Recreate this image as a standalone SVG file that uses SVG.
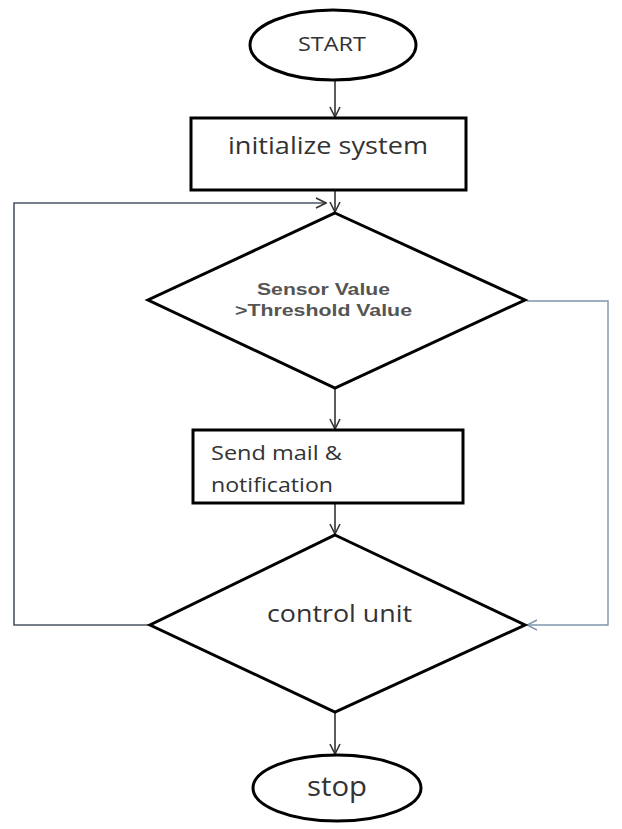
<svg xmlns="http://www.w3.org/2000/svg" width="622" height="829" viewBox="0 0 622 829">
<style>
.shape{fill:#fff;stroke:#000;stroke-width:3}
.conn{fill:none;stroke:#333;stroke-width:1.6}
.blue{fill:none;stroke:#7f95ad;stroke-width:1.4}
.dark{fill:none;stroke:#4a5664;stroke-width:1.6}
.t{font-family:"Open Sans","Liberation Sans",sans-serif;fill:#333}
.b{font-family:"Liberation Sans",Arial,sans-serif;font-weight:bold;fill:#555;font-size:17px}
</style>
<defs>
<marker id="ah" viewBox="0 0 12 12" refX="11" refY="6" markerWidth="12" markerHeight="12" markerUnits="userSpaceOnUse" orient="auto">
<polyline points="1,1 11,6 1,11" fill="none" stroke="#333" stroke-width="1.6"/>
</marker>
<marker id="ahb" viewBox="0 0 12 12" refX="11" refY="6" markerWidth="12" markerHeight="12" markerUnits="userSpaceOnUse" orient="auto">
<polyline points="1,1 11,6 1,11" fill="none" stroke="#7f95ad" stroke-width="1.4"/>
</marker>
</defs>
<rect width="622" height="829" fill="#fff"/>
<g id="connectors">
<line class="conn" x1="335" y1="80" x2="335" y2="117" marker-end="url(#ah)"/>
<line class="conn" x1="335" y1="190" x2="335" y2="212" marker-end="url(#ah)"/>
<line class="conn" x1="335" y1="388" x2="335" y2="429" marker-end="url(#ah)"/>
<line class="conn" x1="335" y1="503" x2="335" y2="534" marker-end="url(#ah)"/>
<line class="conn" x1="335" y1="712" x2="335" y2="754" marker-end="url(#ah)"/>
<polyline class="dark" points="150,625 14,625 14,203 326,203" marker-end="url(#ah)"/>
<polyline class="blue" points="527,301 608,301 608,625 527,625" marker-end="url(#ahb)"/>
</g>
<g id="start">
<ellipse class="shape" cx="333" cy="45" rx="83" ry="35"/>
<text class="t" x="298" y="51" font-size="20" textLength="68" lengthAdjust="spacingAndGlyphs">START</text>
</g>
<g id="init">
<rect class="shape" x="191" y="118" width="275" height="72"/>
<text class="t" x="228" y="154" font-size="23" textLength="200" lengthAdjust="spacingAndGlyphs">initialize system</text>
</g>
<g id="sensor">
<polygon class="shape" points="335,213 525,300 335,388 148,300"/>
<text class="b" x="257" y="295" textLength="133" lengthAdjust="spacingAndGlyphs">Sensor Value</text>
<text class="b" x="235" y="316" textLength="177" lengthAdjust="spacingAndGlyphs">&gt;Threshold Value</text>
</g>
<g id="send">
<rect class="shape" x="193" y="430" width="270" height="73"/>
<text class="t" x="211" y="460" font-size="20" textLength="131" lengthAdjust="spacingAndGlyphs">Send mail &amp;</text>
<text class="t" x="211" y="492" font-size="20" textLength="122" lengthAdjust="spacingAndGlyphs">notification</text>
</g>
<g id="control">
<polygon class="shape" points="335,535 525,625 335,712 150,625"/>
<text class="t" x="267" y="622" font-size="23" textLength="145" lengthAdjust="spacingAndGlyphs">control unit</text>
</g>
<g id="stop">
<ellipse class="shape" cx="337" cy="788" rx="84" ry="33"/>
<text class="t" x="307" y="796" font-size="28" textLength="60" lengthAdjust="spacingAndGlyphs">stop</text>
</g>
</svg>
